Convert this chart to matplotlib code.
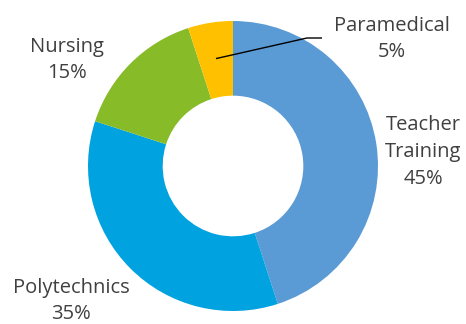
import numpy as np
import matplotlib
matplotlib.use("Agg")
import matplotlib.pyplot as plt

categories = ["Teacher\nTraining", "Polytechnics", "Nursing", "Paramedical"]
values = [45, 35, 15, 5]
colors = ["#5B9BD5", "#00A2DF", "#88BB28", "#FFC000"]

W, H = 466, 324
cx, cy, R = 233, 166, 145

fig = plt.figure(figsize=(W / 100, H / 100), dpi=100)
ax = fig.add_axes([0, 0, 1, 1])

wedges, _ = ax.pie(values, colors=colors, startangle=90, counterclock=False,
                   radius=1.0, wedgeprops=dict(width=0.515, edgecolor="none"))
ax.set_xlim(-cx / R, (W - cx) / R)
ax.set_ylim(-(H - cy) / R, cy / R)
ax.set_aspect("equal")
ax.axis("off")

def P(px, py):
    return ((px - cx) / R, (cy - py) / R)

font = dict(family="Open Sans", fontsize=14.5, color="#404040", ha="center", va="center",
            linespacing=1.45)
label_pos = [P(423, 152), P(71, 301), P(67, 60), P(392, 39)]
for cat, v, pos in zip(categories, values, label_pos):
    ax.text(pos[0], pos[1], f"{cat}\n{v}%", **font)

# leader line for Paramedical
w = wedges[3]
mid = np.deg2rad((w.theta1 + w.theta2) / 2)
r0 = 0.75
x0, y0 = r0 * np.cos(mid), r0 * np.sin(mid)
xb, yb = P(307, 38)
xe, ye = P(322, 38)
ax.plot([x0, xb, xe], [y0, yb, ye], color="black", lw=1.0, solid_capstyle="butt")

fig.savefig("out.png", dpi=100)
